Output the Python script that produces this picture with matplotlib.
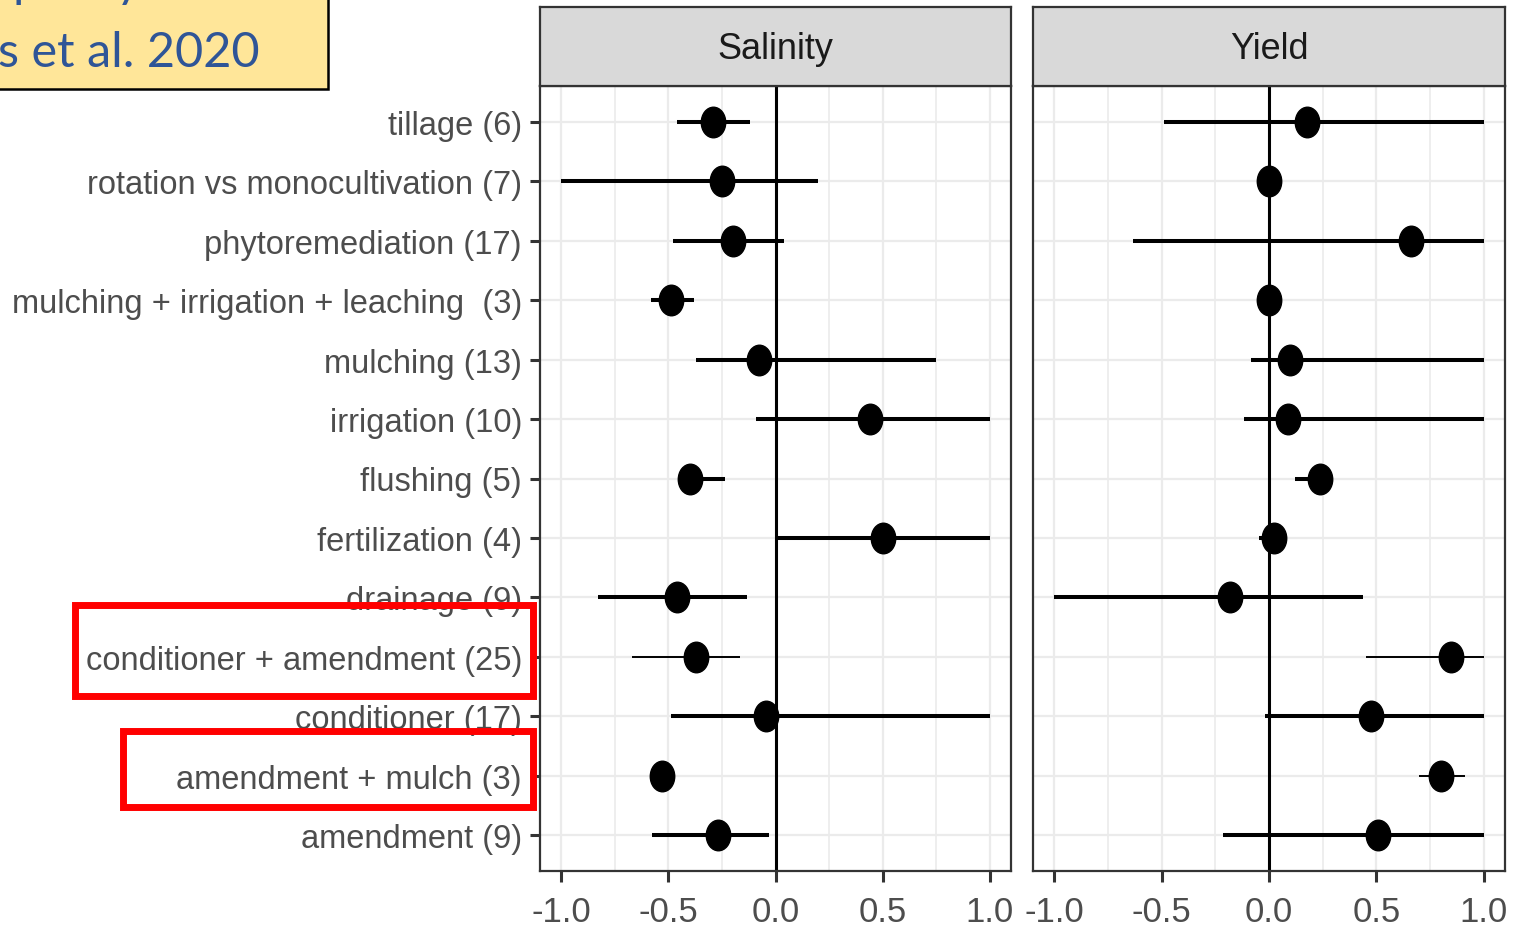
import matplotlib
matplotlib.use("Agg")
import matplotlib.pyplot as plt
from matplotlib.path import Path
from matplotlib.transforms import Affine2D
from matplotlib.patches import Rectangle

# rows listed top to bottom as they appear in the figure
labels = [
    "tillage (6)",
    "rotation vs monocultivation (7)",
    "phytoremediation (17)",
    "mulching + irrigation + leaching  (3)",
    "mulching (13)",
    "irrigation (10)",
    "flushing (5)",
    "fertilization (4)",
    "drainage (9)",
    "conditioner + amendment (25)",
    "conditioner (17)",
    "amendment + mulch (3)",
    "amendment (9)",
]

salinity_est = [-0.29, -0.25, -0.20, -0.49, -0.075, 0.44, -0.40, 0.50, -0.46, -0.37, -0.045, -0.53, -0.27]
salinity_lo = [-0.46, -1.0, -0.48, -0.58, -0.37, -0.09, -0.45, 0.0, -0.83, -0.67, -0.49, -0.55, -0.575]
salinity_hi = [-0.12, 0.20, 0.04, -0.38, 0.75, 1.0, -0.235, 1.0, -0.135, -0.165, 1.0, -0.51, -0.03]

yield_est = [0.177, 0.0, 0.66, 0.0, 0.10, 0.09, 0.24, 0.025, -0.18, 0.85, 0.475, 0.80, 0.51]
yield_lo = [-0.49, 0.0, -0.635, 0.0, -0.085, -0.115, 0.12, -0.045, -1.0, 0.45, -0.02, 0.70, -0.215]
yield_hi = [1.0, 0.0, 1.0, 0.0, 1.0, 1.0, 0.27, 0.06, 0.44, 1.0, 1.0, 0.915, 1.0]

panels = ["Salinity", "Yield"]
x_ticks = [-1.0, -0.5, 0.0, 0.5, 1.0]
x_minor = [-0.75, -0.25, 0.25, 0.75]
highlighted = ["conditioner + amendment (25)", "amendment + mulch (3)"]

W, H = 1522, 928
plt.rcParams["font.family"] = ["Liberation Sans", "DejaVu Sans"]

# slightly tall dot, like the stretched original
dot = Path.unit_circle().transformed(Affine2D().scale(0.8, 1.0))


def px(x, y, w, h):
    """pixel box (top-left origin) -> figure fraction rect"""
    return [x / W, 1 - (y + h) / H, w / W, h / H]


def draw_panel(ax, est, lo, hi, title, rect, show_y):
    n = len(labels)
    ys = [n - i for i in range(n)]
    ax.set_facecolor("white")
    ax.set_xlim(-1.1, 1.1)
    ax.set_ylim(0.4, n + 0.6)
    ax.set_xticks(x_ticks)
    ax.set_xticks(x_minor, minor=True)
    ax.set_xticklabels(["%.1f" % t for t in x_ticks])
    ax.set_yticks(ys)
    ax.grid(True, which="major", color="#EBEBEB", lw=1.6, zorder=0)
    ax.grid(True, which="minor", axis="x", color="#EBEBEB", lw=1.2, zorder=0)
    ax.set_axisbelow(True)
    ax.axvline(0, color="black", lw=2.2, zorder=2)
    for i, y in enumerate(ys):
        lw = 1.4 if labels[i] in highlighted else 2.9
        ax.hlines(y, lo[i], hi[i], color="black", lw=lw, zorder=3)
    ax.plot(est, ys, linestyle="none", marker=dot, ms=22, color="black", zorder=4)

    for s in ax.spines.values():
        s.set_color("#333333")
        s.set_linewidth(1.6)
    ax.tick_params(axis="x", which="major", length=8, width=2.2, color="#333333",
                   labelsize=25, labelcolor="#4D4D4D", pad=9)
    ax.tick_params(axis="x", which="minor", length=0)
    if show_y:
        ax.set_yticklabels(labels)
        ax.tick_params(axis="y", length=7, width=2.2, color="#333333",
                       labelsize=23.5, labelcolor="#4D4D4D", pad=6)
    else:
        ax.set_yticklabels([])
        ax.tick_params(axis="y", length=0)

    # facet strip
    sx = ax.get_figure().add_axes([rect[0], rect[1] + rect[3], rect[2], 79 / H])
    sx.set_facecolor("#D9D9D9")
    sx.set_xticks([])
    sx.set_yticks([])
    for s in sx.spines.values():
        s.set_color("#333333")
        s.set_linewidth(1.6)
    sx.text(0.5, 0.47, title, ha="center", va="center", fontsize=26, color="#1A1A1A",
            transform=sx.transAxes)


fig = plt.figure(figsize=(W / 100, H / 100), dpi=100)

rect1 = px(540, 87, 471, 785)
rect2 = px(1033, 87, 472, 785)
ax1 = fig.add_axes(rect1)
ax2 = fig.add_axes(rect2)
draw_panel(ax1, salinity_est, salinity_lo, salinity_hi, panels[0], rect1, True)
draw_panel(ax2, yield_est, yield_lo, yield_hi, panels[1], rect2, False)

# cut-off citation box in the top-left corner
fig.patches.append(Rectangle((-0.01, 1 - 90 / H), 0.01 + 328 / W, 0.2, transform=fig.transFigure,
                             facecolor="#FFE699", edgecolor="black", lw=1.8, zorder=0))
fig.text(232 / W, 1 + 3 / H, "quality and", ha="right", va="baseline", fontsize=35,
         color="#2F5597", family=["Lato", "DejaVu Sans"])
fig.text(-2 / W, 1 - 67 / H, "s et al. 2020", ha="left", va="baseline", fontsize=35,
         color="#2F5597", family=["Lato", "DejaVu Sans"])

# red highlight boxes around two of the labels
for (x, y, w, h) in [(75, 606, 458, 91), (123, 732, 410, 76)]:
    fig.patches.append(Rectangle((x / W, 1 - (y + h) / H), w / W, h / H, transform=fig.transFigure,
                                 facecolor="none", edgecolor="#FF0000", lw=5, zorder=5))

fig.savefig("out.png", dpi=100)
